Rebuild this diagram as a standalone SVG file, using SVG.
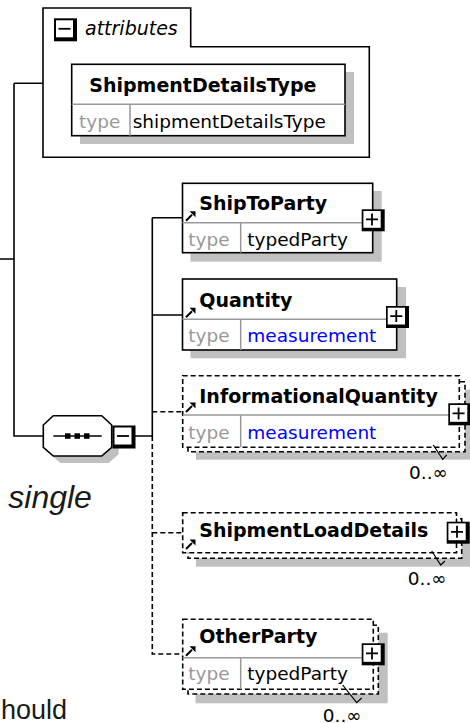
<svg xmlns="http://www.w3.org/2000/svg" width="470" height="723" viewBox="0 0 470 723">
<style>
.bx{fill:#fff;stroke:#000;stroke-width:1.6}
.dbx{fill:#fff;stroke:#000;stroke-width:1.6;stroke-dasharray:5,3}
.sh{fill:#c0c0c0}
.dv{stroke:#999;stroke-width:1.5;fill:none}
.ln{stroke:#000;stroke-width:1.6;fill:none}
.dl{stroke:#000;stroke-width:1.6;fill:none;stroke-dasharray:5,3}
.tk{stroke:#000;stroke-width:1.2;fill:none}
.nm{font-family:"DejaVu Sans",Verdana,sans-serif;font-weight:bold;font-size:19px;fill:#000}
.tl{font-family:"DejaVu Sans",Verdana,sans-serif;font-size:18.5px;fill:#999}
.tv{font-family:"DejaVu Sans",Verdana,sans-serif;font-size:18.5px;fill:#000}
.blue{fill:#0000ff}
.occ{font-family:"DejaVu Sans",Verdana,sans-serif;font-size:18.5px;fill:#000;text-anchor:end}
.doc{font-family:"Liberation Sans",Arial,sans-serif;fill:#1a1a1a}
</style>
<defs>
<g id="plus"><rect width="23" height="22" fill="#000"/><rect x="1.7" y="1.7" width="17.3" height="16.8" fill="#fff"/><path d="M4.3 10.1H16.3M10.3 4.1V16.1" stroke="#000" stroke-width="1.8"/></g>
<g id="minus"><rect width="23" height="23" fill="#000"/><rect x="2" y="2" width="17" height="17" fill="#fff"/><path d="M4.5 10.5H16.5" stroke="#000" stroke-width="1.8"/></g>
<g id="ref"><path d="M0 0L6 -6" stroke="#000" stroke-width="2"/><path d="M3.5 -9.5H9.5V-3.5Z" fill="#000"/></g>
</defs>

<g id="connectors">
<path class="ln" d="M0 259H14M14 83.3H43M14 83.3V436H43.3"/>
<path class="ln" d="M135 436H152.3M152.3 217.7V436M152.3 217.7H182.5M152.3 315H182.5"/>
<path class="dl" d="M152.3 436V654H182.7M152.3 411.7H182.7M152.3 532.7H182.7"/>
</g>

<g id="attributes">
<path class="bx" d="M43 8H190.7V46.7H369.3V157.3H43Z"/>
<use href="#minus" x="54" y="18.3"/>
<text x="85" y="35" style="font-family:'DejaVu Sans',Verdana,sans-serif;font-style:italic;font-size:19px;fill:#000">attributes</text>
</g>

<g id="ShipmentDetailsType">
<rect class="sh" x="80" y="72" width="274" height="72"/>
<rect class="bx" x="71.7" y="64.3" width="273.3" height="71.4"/>
<path class="dv" d="M71.7 104.3H345M130 104.3V135.7"/>
<text class="nm" x="89.3" y="91.7">ShipmentDetailsType</text>
<text class="tl" x="79" y="128">type</text>
<text class="tv" x="132.7" y="128">shipmentDetailsType</text>
</g>

<g id="ShipToParty">
<rect class="sh" x="190.5" y="191" width="191.2" height="70.7"/>
<rect class="bx" x="182.5" y="183.3" width="190.2" height="69.4"/>
<path class="dv" d="M182.5 222.7H372.7M240.7 222.7V252.7"/>
<use href="#ref" x="186" y="220.7"/>
<text class="nm" x="199.3" y="210">ShipToParty</text>
<text class="tl" x="188.3" y="246">type</text>
<text class="tv" x="247.3" y="246">typedParty</text>
<use href="#plus" x="361.7" y="209.3"/>
</g>

<g id="Quantity">
<rect class="sh" x="190.5" y="287" width="215.5" height="71.3"/>
<rect class="bx" x="182.5" y="279" width="214.2" height="71"/>
<path class="dv" d="M182.5 319.3H396.7M240.7 319.3V350"/>
<use href="#ref" x="186" y="317.3"/>
<text class="nm" x="199.3" y="306.7">Quantity</text>
<text class="tl" x="188.3" y="342">type</text>
<text class="tv blue" x="247.3" y="342">measurement</text>
<use href="#plus" x="386" y="306"/>
</g>

<g id="InformationalQuantity">
<rect class="sh" x="196" y="389.7" width="277" height="70"/>
<path class="dbx" d="M188 381.7H465V451.7H188Z"/>
<rect class="dbx" x="182.7" y="375.7" width="276.6" height="71.6"/>
<path class="dv" d="M182.7 415H459.3M240.7 415V447.3"/>
<use href="#ref" x="186" y="412"/>
<text class="nm" x="199.3" y="403.3">InformationalQuantity</text>
<text class="tl" x="188.3" y="439">type</text>
<text class="tv blue" x="247.3" y="439">measurement</text>
<use href="#plus" x="448.3" y="403.3"/>
<path class="tk" d="M433.3 445L442.7 459.3L446.7 455"/>
<text class="occ" x="448" y="479.3">0..∞</text>
</g>

<g id="ShipmentLoadDetails">
<rect class="sh" x="196" y="526.7" width="274" height="40"/>
<path class="dbx" d="M188 518.7H461.7V558.3H188Z"/>
<rect class="dbx" x="182.7" y="512.7" width="273.8" height="40"/>
<use href="#ref" x="186" y="549"/>
<text class="nm" x="199.3" y="536.7">ShipmentLoadDetails</text>
<use href="#plus" x="446.7" y="521.7"/>
<path class="tk" d="M431.7 551L440.7 565L445 561"/>
<text class="occ" x="446.7" y="585">0..∞</text>
</g>

<g id="OtherParty">
<rect class="sh" x="195.5" y="632.7" width="192.2" height="70.6"/>
<path class="dbx" d="M188 625.3H378.3V694H188Z"/>
<rect class="dbx" x="182.7" y="619.3" width="190.6" height="70"/>
<path class="dv" d="M182.7 657.7H373.3M240.7 657.7V689.3"/>
<use href="#ref" x="186" y="655.7"/>
<text class="nm" x="199.3" y="643.3">OtherParty</text>
<text class="tl" x="188.3" y="680">type</text>
<text class="tv" x="247.3" y="680">typedParty</text>
<use href="#plus" x="361.7" y="643.3"/>
<path class="tk" d="M342.7 685L356.7 702.7L361.7 698"/>
<text class="occ" x="361.7" y="721.7">0..∞</text>
</g>

<g id="sequence">
<path class="sh" d="M60.3 422.7H108.7L118.7 432V454.3L108.7 463H60.3L50.3 454.3V432Z"/>
<path class="bx" d="M53.3 415.7H101.7L111.7 425V447.3L101.7 456H53.3L43.3 447.3V425Z"/>
<path class="ln" d="M53.3 436H101.7"/>
<rect x="65" y="433.3" width="5.5" height="5.5"/>
<rect x="74.5" y="433.3" width="5.5" height="5.5"/>
<rect x="84" y="433.3" width="5.5" height="5.5"/>
<use href="#minus" x="112.5" y="425.5"/>
</g>

<text class="doc" x="8.3" y="507.7" style="font-style:italic;font-size:32px">single</text>
<text class="doc" x="1" y="719.3" style="font-size:27px">hould</text>
</svg>
